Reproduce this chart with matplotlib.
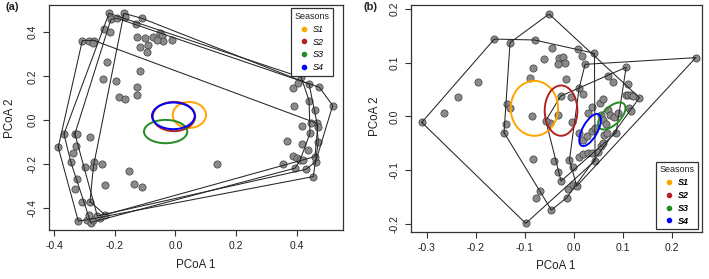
import numpy as np
import matplotlib
matplotlib.use('Agg')
import matplotlib.pyplot as plt
from matplotlib.patches import Ellipse
from matplotlib.lines import Line2D

plt.rcParams['font.family'] = ['Liberation Sans', 'DejaVu Sans']
plt.rcParams['axes.unicode_minus'] = False

seasons = ['S1', 'S2', 'S3', 'S4']
season_colors = ['#FFA500', '#B22222', '#228B22', '#0000FF']

# ---------------- Panel (a) data ----------------
a_s1_x = [-0.3076, -0.2845, -0.268, -0.271, -0.387, -0.321, 0.455, 0.4715, 0.466, -0.227, -0.196, -0.240,
          -0.1865, -0.1656, -0.128, -0.128, -0.117, 0.138, -0.1546, -0.136, -0.298, 0.356, 0.387, 0.369,
          0.419, 0.4385, -0.293, -0.333, -0.324, -0.3285, -0.307]
a_s1_y = [0.362, 0.362, 0.362, 0.350, -0.123, -0.458, -0.256, -0.097, -0.0136, 0.267, 0.180, 0.186,
          0.1076, 0.0955, 0.115, 0.153, 0.224, -0.200, -0.233, -0.291, -0.214, -0.198, -0.162, -0.094,
          -0.1076, -0.135, -0.453, -0.314, -0.268, -0.117, -0.370]
a_s2_x = [-0.2195, -0.368, -0.346, -0.280, 0.3945, 0.444, 0.441, 0.415, -0.236, -0.216, -0.127, -0.1007,
          -0.073, -0.051, -0.0457, -0.117, -0.090, -0.095, 0.387, 0.4055, 0.391, 0.4165, 0.400, 0.411,
          -0.337, -0.282, -0.249, -0.271, -0.2845]
a_s2_y = [0.486, -0.062, -0.188, -0.465, -0.218, -0.059, 0.089, 0.195, 0.414, 0.400, 0.380, 0.373,
          0.380, 0.395, 0.383, 0.335, 0.342, 0.309, 0.145, 0.168, 0.0667, -0.026, -0.173, -0.183,
          -0.147, -0.077, -0.445, -0.453, -0.430]
a_s3_x = [-0.213, -0.194, -0.332, -0.258, 0.431, 0.4627, 0.519, 0.475, -0.326, -0.269, -0.2415, -0.2327,
          0.4606, 0.446, 0.422]
a_s3_y = [0.459, 0.464, -0.062, -0.435, -0.223, -0.188, 0.0667, 0.150, -0.062, -0.192, -0.200, -0.294,
          0.047, -0.0106, -0.180]
a_s4_x = [-0.170, -0.112, 0.441, 0.4694, 0.4606, -0.2327, -0.282, -0.271, -0.167, -0.1315, -0.0105,
          -0.040, -0.062, -0.1095]
a_s4_y = [0.486, 0.464, 0.165, -0.029, -0.165, -0.430, -0.370, -0.211, 0.468, 0.438, 0.365,
          0.362, 0.365, -0.305]

a_ell_cx = [0.0457, -0.005, -0.0325, -0.007]
a_ell_cy = [0.024, 0.017, -0.0515, 0.020]
a_ell_w = [0.110, 0.140, 0.143, 0.141]
a_ell_h = [0.118, 0.133, 0.106, 0.121]
a_ell_ang = [0, 0, 0, 0]

a_xticks = [-0.4, -0.2, 0.0, 0.2, 0.4]
a_xticklabels = ['-0.4', '-0.2', '0.0', '0.2', '0.4']
a_yticks = [-0.4, -0.2, 0.0, 0.2, 0.4]
a_yticklabels = ['-0.4', '-0.2', '0.0', '0.2', '0.4']

# ---------------- Panel (b) data ----------------
b_s1_x = [-0.310, -0.162, -0.080, 0.0422, 0.0435, -0.098, -0.264, -0.2367, -0.1946, -0.0857, -0.0891,
          -0.0823, -0.1354, -0.130, -0.0837, -0.0687, -0.0776, -0.0605, -0.045, -0.030, -0.0007]
b_s1_y = [-0.011, 0.144, 0.1423, 0.1175, -0.0822, -0.1988, 0.007, 0.0369, 0.0648, 0.0009, 0.0722,
          0.0896, 0.0233, 0.0152, -0.0797, -0.138, -0.152, 0.107, 0.128, 0.1095, -0.0933]
b_s2_x = [-0.130, -0.0503, 0.134, -0.0456, -0.1422, -0.1388, -0.021, -0.0177, -0.0313, 0.0095, 0.0163,
          -0.0156, -0.0061, -0.0313, -0.0483, -0.0401, -0.0313, -0.0143, -0.0109, -0.002]
b_s2_y = [0.1374, 0.1907, 0.035, -0.174, -0.030, -0.014, 0.1113, 0.100, 0.097, 0.125, 0.1125,
          0.0691, 0.0369, 0.0028, -0.0115, -0.0822, -0.1026, -0.151, -0.1355, -0.1274]
b_s3_x = [0.0231, 0.249, 0.0061, -0.0088, 0.0109, 0.0197, 0.0537, 0.0605, 0.0707, 0.081, 0.1116, 0.1068,
          0.1116, 0.1163, 0.1204, 0.1136, 0.117, 0.0707, 0.0741, 0.083, 0.0898, 0.0551, 0.0605, 0.0653,
          0.0503, 0.0551, 0.0605, 0.0626, 0.0673]
b_s3_y = [0.097, 0.1095, -0.1293, -0.081, 0.0524, 0.042, 0.0257, 0.032, 0.0753, 0.0648, 0.0605, 0.040,
          0.040, 0.040, 0.0381, 0.0152, 0.0109, 0.0121, 0.0028, -0.0016, 0.0071, 0.0028, -0.0065, -0.014,
          -0.0654, -0.0549, -0.0487, -0.0344, -0.0301]
b_s4_x = [-0.0571, -0.0265, 0.1068, 0.0864, -0.0259, -0.0041, 0.0286, 0.0367, 0.0102, 0.0197, 0.0279,
          0.0367, 0.0442, 0.0116, 0.0197, 0.0286, 0.0367]
b_s4_y = [-0.0078, 0.0381, 0.0915, -0.0301, -0.120, -0.0096, 0.0071, 0.0171, -0.0301, -0.0437, -0.0363,
          -0.0264, -0.0207, -0.0747, -0.0698, -0.0673, -0.0685]

b_ell_cx = [-0.0803, -0.0259, 0.0776, 0.0333]
b_ell_cy = [0.0152, 0.0109, 0.001, -0.0251]
b_ell_w = [0.0966, 0.0667, 0.067, 0.068]
b_ell_h = [0.1023, 0.0936, 0.034, 0.030]
b_ell_ang = [0, 0, 40, 58]

b_xticks = [-0.3, -0.2, -0.1, 0.0, 0.1, 0.2]
b_xticklabels = ['-0.3', '-0.2', '-0.1', '0.0', '0.1', '0.2']
b_yticks = [-0.2, -0.1, 0.0, 0.1, 0.2]
b_yticklabels = ['-0.2', '-0.1', '0.0', '0.1', '0.2']


def convex_hull(xs, ys):
    pts = sorted(set(zip(xs, ys)))
    if len(pts) < 3:
        return pts

    def cross(o, a, b):
        return (a[0] - o[0]) * (b[1] - o[1]) - (a[1] - o[1]) * (b[0] - o[0])

    lower = []
    for p in pts:
        while len(lower) >= 2 and cross(lower[-2], lower[-1], p) <= 0:
            lower.pop()
        lower.append(p)
    upper = []
    for p in reversed(pts):
        while len(upper) >= 2 and cross(upper[-2], upper[-1], p) <= 0:
            upper.pop()
        upper.append(p)
    return lower[:-1] + upper[:-1]


W, H = 709, 279
fig = plt.figure(figsize=(W / 100, H / 100), dpi=100)
ax_a = fig.add_axes([49 / W, 1 - 230 / H, (343.3 - 49) / W, 225 / H])
ax_b = fig.add_axes([411 / W, 1 - 231.7 / H, (701.7 - 411) / W, 226.7 / H])

frame_col = '#333333'


def draw_panel(ax, xs_list, ys_list, ecx, ecy, ew, eh, eang, xlim, ylim,
               xt, xtl, yt, ytl, leg_loc, leg_anchor, bold):
    for xs, ys in zip(xs_list, ys_list):
        ax.scatter(xs, ys, s=27, c='#8a8a8a', edgecolors='#3c3c3c', linewidths=0.5, zorder=2)
    for xs, ys in zip(xs_list, ys_list):
        hull = convex_hull(xs, ys)
        hull.append(hull[0])
        hx, hy = zip(*hull)
        ax.plot(hx, hy, color='#262626', lw=0.75, zorder=3)
    for cx, cy, w, h, ang, col in zip(ecx, ecy, ew, eh, eang, season_colors):
        ax.add_patch(Ellipse((cx, cy), w, h, angle=ang, fill=False, ec=col, lw=1.4, zorder=4))
    ax.set_xlim(*xlim)
    ax.set_ylim(*ylim)
    ax.set_xticks(xt)
    ax.set_xticklabels(xtl)
    ax.set_yticks(yt)
    ax.set_yticklabels(ytl, rotation=90, va='center')
    ax.tick_params(direction='out', length=4, width=0.8, colors=frame_col, labelsize=7.5,
                   labelcolor='#222222', pad=4)
    for sp in ax.spines.values():
        sp.set_color(frame_col)
        sp.set_linewidth(0.9)
    handles = [Line2D([], [], marker='o', ls='', color=c, markersize=3) for c in season_colors]
    prop = {'style': 'italic', 'size': 6.5}
    if bold:
        prop['weight'] = 'bold'
    leg = ax.legend(handles, seasons, title='Seasons', loc=leg_loc, bbox_to_anchor=leg_anchor,
                    prop=prop, title_fontsize=6.5, frameon=True, fancybox=False, framealpha=1,
                    edgecolor=frame_col, borderpad=0.4, handlelength=0.8, handletextpad=0.5,
                    labelspacing=0.42, borderaxespad=0)
    leg.get_frame().set_linewidth(0.9)
    leg.get_title().set_color('#222222')
    leg.set_zorder(10)


draw_panel(ax_a, [a_s1_x, a_s2_x, a_s3_x, a_s4_x], [a_s1_y, a_s2_y, a_s3_y, a_s4_y],
           a_ell_cx, a_ell_cy, a_ell_w, a_ell_h, a_ell_ang,
           (-0.4175, 0.554), (-0.499, 0.524),
           a_xticks, a_xticklabels, a_yticks, a_yticklabels,
           'upper right', (0.966, 0.985), False)
draw_panel(ax_b, [b_s1_x, b_s2_x, b_s3_x, b_s4_x], [b_s1_y, b_s2_y, b_s3_y, b_s4_y],
           b_ell_cx, b_ell_cy, b_ell_w, b_ell_h, b_ell_ang,
           (-0.332, 0.261), (-0.2143, 0.2074),
           b_xticks, b_xticklabels, b_yticks, b_yticklabels,
           'lower right', (0.988, 0.011), True)

lab_kw = dict(fontsize=8.4, color='#222222')
fig.text(196 / W, 1 - 265 / H, 'PCoA 1', ha='center', va='center', **lab_kw)
fig.text(10 / W, 1 - 118 / H, 'PCoA 2', ha='center', va='center', rotation=90, **lab_kw)
fig.text(556 / W, 1 - 266 / H, 'PCoA 1', ha='center', va='center', **lab_kw)
fig.text(375 / W, 1 - 116 / H, 'PCoA 2', ha='center', va='center', rotation=90, **lab_kw)
fig.text(5 / W, 1 - 2 / H, '(a)', ha='left', va='top', fontsize=8, fontweight='bold', color='#222222')
fig.text(363 / W, 1 - 2 / H, '(b)', ha='left', va='top', fontsize=8, fontweight='bold', color='#222222')

fig.savefig('out.png', dpi=100)
